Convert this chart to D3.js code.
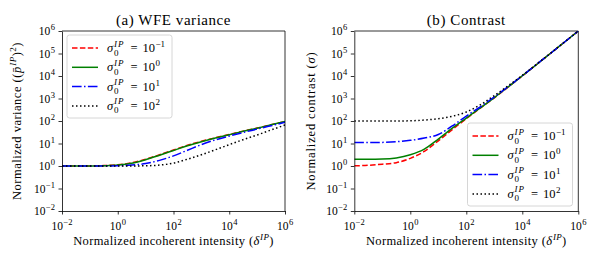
<!DOCTYPE html>
<html>
<head>
<meta charset="utf-8">
<script src="https://cdn.jsdelivr.net/npm/d3@7"></script>
<style>
  body { margin: 0; background: #fff; }
</style>
</head>
<body>
<svg id="chart" width="600" height="263"></svg>
<script>
// genormaliseerde incoherente intensiteit (x-as, gedeeld door beide panelen)
const delta = [0.01, 0.0316, 0.1, 0.316, 1, 3.16, 10, 31.6, 100, 316, 1000, 3162, 1e4, 31623, 1e5, 316228, 1e6];

// (a) WFE variance, per sigma_0^IP
const varRed   = [1, 1, 1.01, 1.04, 1.135, 1.38, 2.0, 3.16, 5.13, 8.3, 12.5, 18.0, 25.1, 35.5, 48.5, 68, 96];
const varGreen = [1, 1, 1.007, 1.028, 1.096, 1.318, 1.905, 3.02, 4.9, 7.94, 12.0, 17.4, 24.5, 34.7, 47.9, 67.6, 95.5];
const varBlue  = [1, 1, 1, 1.005, 1.023, 1.096, 1.288, 1.778, 2.82, 5.01, 8.91, 14.5, 21.4, 30.9, 43.7, 61.7, 87.1];
const varBlack = [1, 1, 1, 1, 1, 1.005, 1.023, 1.096, 1.349, 2.0, 3.16, 5.25, 8.91, 14.8, 24.0, 39.8, 66.1];

// (b) Contrast, per sigma_0^IP
const conRed   = [1.02, 1.07, 1.2, 1.41, 2.19, 4.47, 13.2, 41.7, 126, 372, 1072, 3236, 10116, 31700, 100200, 316300, 1e6];
const conGreen = [2.0, 2.0, 2.04, 2.29, 3.16, 5.62, 15.8, 47.9, 135, 380, 1096, 3311, 10233, 31700, 100200, 316300, 1e6];
const conBlue  = [11.0, 11.0, 11.2, 12.0, 13.8, 17.4, 25.1, 60.3, 166, 427, 1175, 3388, 10233, 32359, 100300, 316300, 1e6];
const conBlack = [100, 100, 100, 100, 102, 110, 126, 162, 251, 525, 1349, 3715, 10715, 32359, 100500, 316400, 1e6];

// legenda en ticks
const legendExp = ["\u22121", "0", "1", "2"];
const xTicks = [1e-2, 1, 1e2, 1e4, 1e6];
const xTickExp = ["\u22122", "0", "2", "4", "6"];
const yTicks = [1e-2, 1e-1, 1, 1e1, 1e2, 1e3, 1e4, 1e5, 1e6];
const yTickExp = ["\u22122", "\u22121", "0", "1", "2", "3", "4", "5", "6"];

// lijnstijlen (matplotlib r--, g-, b-., k:)
const styles = [
  { color: "#ff0000", dash: "5.5,2.4" },
  { color: "#008000", dash: null },
  { color: "#0000ff", dash: "9.6,2.4,1.5,2.4" },
  { color: "#000000", dash: "1.5,2.5" }
];

const svg = d3.select("#chart")
    .style("font-family", "'Liberation Serif'");
const plotTop = 31, plotBottom = 211;

// tekst iets breder zetten zodat hij de breedte van het origineel (LaTeX) haalt
function fit(t, target) {
  const w = t.node().getComputedTextLength();
  const n = t.node().textContent.length;
  t.attr("letter-spacing", ((target - w) / n).toFixed(2));
}

// legenda-label: sigma_0^IP = 10^k, elk stukje op een eigen x
function legendLabel(g, x, y, exp) {
  const t = g.append("text").attr("y", y + 4).attr("font-size", 12.5);
  t.append("tspan").attr("x", x).attr("font-style", "italic").text("\u03c3");
  t.append("tspan").attr("x", x + 7).attr("dy", -5.5).attr("font-size", 9)
    .attr("font-style", "italic").attr("letter-spacing", 0.9).text("IP");
  t.append("tspan").attr("x", x + 7).attr("dy", 9).attr("font-size", 9).text("0");
  t.append("tspan").attr("x", x + 23.5).attr("dy", -3.5).text("=");
  t.append("tspan").attr("x", x + 35.5).text("10");
  t.append("tspan").attr("x", x + 48.5).attr("dy", -5).attr("font-size", 9).text(exp);
}

function drawPanel(opts) {
  const x = d3.scaleLog().domain([1e-2, 1e6]).range([opts.x0, opts.x1]);
  const y = d3.scaleLog().domain([1e-2, 1e6]).range([plotBottom, plotTop]);
  const g = svg.append("g");

  const clipId = "clip" + opts.id;
  svg.append("clipPath").attr("id", clipId)
    .append("rect").attr("x", opts.x0).attr("y", plotTop)
    .attr("width", opts.x1 - opts.x0).attr("height", plotBottom - plotTop);

  // lijnen
  const line = d3.line()
      .x(d => x(d[0]))
      .y(d => y(d[1]))
      .curve(d3.curveMonotoneX);

  opts.series.forEach(function(vals, i) {
    g.append("path")
      .datum(delta.map((d, j) => [d, vals[j]]))
      .attr("clip-path", "url(#" + clipId + ")")
      .attr("fill", "none")
      .attr("stroke", styles[i].color)
      .attr("stroke-width", 1.5)
      .attr("stroke-dasharray", styles[i].dash)
      .attr("d", line);
  });

  // assen
  g.append("g").attr("transform", "translate(0," + plotBottom + ")")
    .call(d3.axisBottom(x).tickValues(xTicks).tickSize(3.5).tickSizeOuter(0).tickFormat(""))
    .call(a => a.selectAll("line,path").attr("stroke", "#000").attr("stroke-width", 0.8));
  g.append("g").attr("transform", "translate(" + opts.x0 + ",0)")
    .call(d3.axisLeft(y).tickValues(yTicks).tickSize(3.5).tickSizeOuter(0).tickFormat(""))
    .call(a => a.selectAll("line,path").attr("stroke", "#000").attr("stroke-width", 0.8));
  g.append("path")
    .attr("d", "M" + opts.x0 + "," + plotTop + "H" + opts.x1 + "V" + plotBottom)
    .attr("fill", "none").attr("stroke", "#000").attr("stroke-width", 0.8);

  // tick labels
  xTicks.forEach(function(v, i) {
    const t = g.append("text").attr("x", x(v)).attr("y", 230)
        .attr("text-anchor", "middle").attr("font-size", 11.5);
    t.append("tspan").text("10");
    t.append("tspan").attr("font-size", 8.5).attr("dy", -5).attr("dx", 0.5).text(xTickExp[i]);
  });
  yTicks.forEach(function(v, i) {
    const t = g.append("text").attr("x", opts.x0 - 7).attr("y", y(v) + 4)
        .attr("text-anchor", "end").attr("font-size", 11.5);
    t.append("tspan").text("10");
    t.append("tspan").attr("font-size", 8.5).attr("dy", -5).attr("dx", 0.5).text(yTickExp[i]);
  });

  // titel
  const ti = g.append("text").attr("x", (opts.x0 + opts.x1) / 2).attr("y", 24.5)
    .attr("text-anchor", "middle").attr("font-size", 15).text(opts.title);
  fit(ti, opts.titleW);

  // x label
  const xl = g.append("text").attr("x", (opts.x0 + opts.x1) / 2).attr("y", 245)
      .attr("text-anchor", "middle").attr("font-size", 12.5);
  xl.append("tspan").text("Normalized incoherent intensity (");
  xl.append("tspan").attr("font-style", "italic").text("\u03b4");
  xl.append("tspan").attr("font-style", "italic").attr("font-size", 9).attr("dy", -5).attr("dx", 0.5).text("IP");
  xl.append("tspan").attr("dy", 5).text(")");
  fit(xl, 200);

  // y label
  const yl = g.append("text")
      .attr("transform", "translate(" + opts.ylx + "," + ((plotTop + plotBottom) / 2) + ") rotate(-90)")
      .attr("text-anchor", "middle").attr("font-size", 12.5);
  opts.ylabel(yl);
  fit(yl, opts.ylabelW);

  // legenda
  const lg = g.append("g").attr("transform", "translate(" + opts.legX + "," + opts.legY + ")");
  lg.append("rect").attr("width", 105).attr("height", 83).attr("rx", 2.5)
    .attr("fill", "#fff").attr("fill-opacity", 0.8)
    .attr("stroke", "#cccccc").attr("stroke-width", 0.8);
  styles.forEach(function(s, i) {
    const yy = 13 + i * 19.3;
    lg.append("line").attr("x1", 5).attr("x2", 31).attr("y1", yy).attr("y2", yy)
      .attr("stroke", s.color).attr("stroke-width", 1.5).attr("stroke-dasharray", s.dash);
    legendLabel(lg, 40, yy, legendExp[i]);
  });
}

drawPanel({
  id: "a", x0: 62, x1: 285, title: "(a) WFE variance", titleW: 115,
  series: [varRed, varGreen, varBlue, varBlack],
  ylx: 21, ylabelW: 158, legX: 67, legY: 35,
  ylabel: function(t) {
    t.append("tspan").text("Normalized variance ((");
    t.append("tspan").attr("font-style", "italic").text("p\u0304");
    t.append("tspan").attr("font-style", "italic").attr("font-size", 9).attr("dy", -5).attr("dx", 0.5).text("IP");
    t.append("tspan").attr("dy", 5).text(")");
    t.append("tspan").attr("font-size", 9).attr("dy", -5).text("2");
    t.append("tspan").attr("dy", 5).text(")");
  }
});

drawPanel({
  id: "b", x0: 354.3, x1: 578.3, title: "(b) Contrast", titleW: 79,
  series: [conRed, conGreen, conBlue, conBlack],
  ylx: 315, ylabelW: 139, legX: 467.5, legY: 123,
  ylabel: function(t) {
    t.append("tspan").text("Normalized contrast (");
    t.append("tspan").attr("font-style", "italic").text("\u03c3");
    t.append("tspan").text(")");
  }
});
</script>
</body>
</html>
